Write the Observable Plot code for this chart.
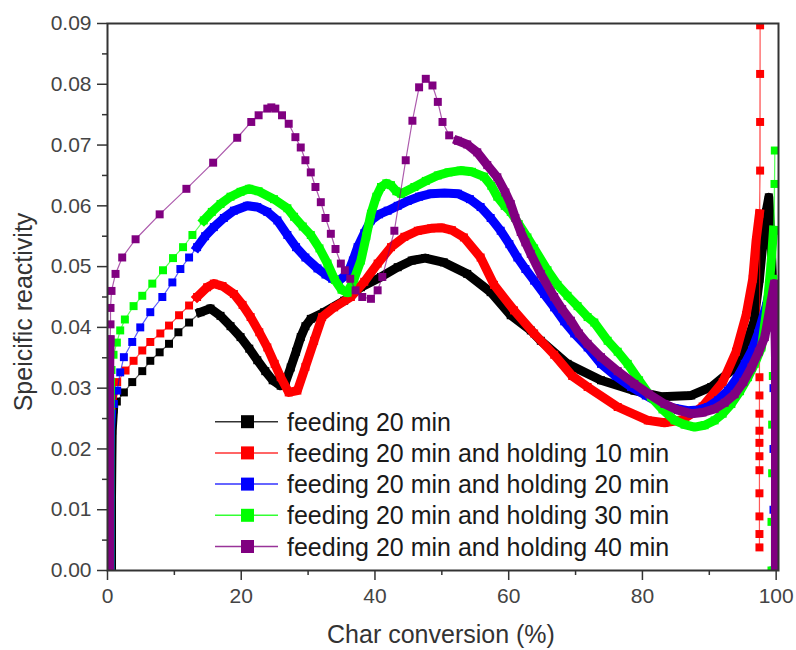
<!DOCTYPE html>
<html><head><meta charset="utf-8">
<script src="https://cdn.jsdelivr.net/npm/d3@7"></script>
<script src="https://cdn.jsdelivr.net/npm/@observablehq/plot@0.6"></script>
<style>
body{margin:0;background:#fff;}
#wrap{position:relative;width:796px;height:650px;font-family:"Liberation Sans",Arial,sans-serif;}
#overlay{position:absolute;left:0;top:0;pointer-events:none;}
</style></head><body><div id="wrap"></div>
<script>
const seriesNames = [
  "feeding 20 min",
  "feeding 20 min and holding 10 min",
  "feeding 20 min and holding 20 min",
  "feeding 20 min and holding 30 min",
  "feeding 20 min and holding 40 min"
];
const seriesColors = ["#000000", "#ff0000", "#0000ff", "#00ff00", "#800080"];
const xTicks = [0, 20, 40, 60, 80, 100];
const xMinorTicks = [10, 30, 50, 70, 90];
const yTicks = [0, 0.01, 0.02, 0.03, 0.04, 0.05, 0.06, 0.07, 0.08, 0.09];
const yMinorTicks = [0.005, 0.015, 0.025, 0.035, 0.045, 0.055, 0.065, 0.075, 0.085];
const xLabel = "Char conversion (%)";
const yLabel = "Speicific reactivity";

// feeding 20 min
const s1Rise = [[0.6,0],[0.6,0.006],[0.6,0.012],[0.65,0.018],[0.7,0.023],[0.9,0.0265]];
const s1Markers = [[1.4,0.0278],[2.45,0.0293],[3.7,0.031],[5.2,0.0328],[6.4,0.0345],[7.8,0.0359],[9.2,0.0373],[10.6,0.0392],[12.2,0.0408]];
const s1Curve = [[13.9,0.0425],[15.4,0.0431],[16.9,0.0419],[18.4,0.0402],[19.9,0.0384],[21.2,0.0365],[22.4,0.0346],[23.6,0.0328],[24.7,0.0313],[25.9,0.0304],[26.7,0.0312],[27.4,0.0334],[28.2,0.036],[28.9,0.0384],[29.6,0.0402],[30.4,0.0414],[32.4,0.0425],[35.4,0.0444],[37.9,0.0466],[40.9,0.0483],[43.4,0.0499],[45.5,0.051],[47.5,0.0514],[50.3,0.0507],[53.8,0.0488],[57.3,0.0458],[60.3,0.042],[63.3,0.0395],[64.8,0.0378],[68.8,0.034],[73.8,0.0313],[78.8,0.0296],[82.8,0.0286],[87.3,0.0288],[90.3,0.0302],[93.3,0.0329],[95.2,0.0362],[96.7,0.041],[97.5,0.048],[98.0,0.0537],[98.5,0.059],[98.9,0.0614],[99.3,0.0526],[99.5,0.046]];

// feeding 20 min and holding 10 min
const s2Rise = [[0.3,0],[0.3,0.006],[0.3,0.012],[0.3,0.018],[0.35,0.024],[0.6,0.0275],[0.9,0.0295]];
const s2Markers = [[1.45,0.031],[2.7,0.0329],[3.9,0.0345],[5.2,0.0362],[6.4,0.0376],[7.9,0.039],[9.2,0.0403],[10.7,0.042],[12.2,0.0436]];
const s2Curve = [[13.4,0.045],[14.9,0.0466],[15.9,0.0472],[17.2,0.0468],[18.9,0.0455],[20.2,0.0437],[21.4,0.0417],[22.7,0.0392],[23.9,0.0367],[25.0,0.034],[25.9,0.0318],[27.1,0.0293],[28.4,0.0296],[29.6,0.0335],[30.9,0.0378],[32.1,0.0417],[33.9,0.0433],[36.4,0.045],[38.4,0.0475],[40.4,0.0505],[42.4,0.0532],[44.4,0.0549],[46.4,0.0559],[48.4,0.0563],[49.9,0.0564],[51.5,0.056],[53.3,0.0548],[55.8,0.0515],[57.8,0.047],[60.8,0.0428],[63.8,0.039],[66.8,0.0355],[69.5,0.032],[71.8,0.0302],[76.3,0.0269],[80.8,0.0247],[83.3,0.0243],[86.0,0.0248],[89.0,0.027],[92.0,0.031],[94.0,0.036],[95.5,0.042],[96.5,0.048],[97.0,0.0543],[97.5,0.0587]];
const s2Spike = [[97.6,0.0658],[97.6,0.0738],[97.6,0.0817],[97.6,0.0897]];
const s2Drop = [[97.5,0.0318],[97.5,0.0288],[97.5,0.0258],[97.5,0.023],[97.5,0.021],[97.5,0.0188],[97.5,0.0165],[97.5,0.0127],[97.5,0.0089],[97.5,0.006],[97.5,0.0038]];

// feeding 20 min and holding 20 min
const s3Rise = [[0.4,0],[0.4,0.006],[0.4,0.012],[0.4,0.018],[0.45,0.023],[0.6,0.0258]];
const s3Markers = [[0.95,0.0274],[1.45,0.0296],[1.9,0.0326],[2.45,0.0351],[3.7,0.0376],[4.9,0.04],[6.4,0.0425],[8.2,0.045],[9.7,0.0474],[10.9,0.0496],[12.2,0.0515]];
const s3Curve = [[13.4,0.0532],[14.6,0.055],[15.9,0.0565],[17.4,0.058],[18.9,0.0592],[20.9,0.06],[22.4,0.0598],[23.9,0.059],[25.4,0.0576],[26.9,0.0552],[28.2,0.0532],[29.6,0.0515],[31.4,0.0497],[32.6,0.0487],[33.6,0.048],[34.6,0.0477],[35.9,0.0488],[36.7,0.051],[37.4,0.0532],[38.4,0.0555],[39.4,0.0576],[40.6,0.0586],[41.9,0.0592],[43.4,0.06],[44.9,0.0608],[46.6,0.0615],[48.4,0.062],[50.4,0.0621],[52.4,0.062],[54.2,0.0611],[55.8,0.0598],[57.3,0.058],[58.8,0.0559],[60.1,0.0537],[61.3,0.0515],[62.5,0.0496],[63.8,0.0477],[65.3,0.0455],[66.8,0.0433],[68.3,0.041],[69.8,0.039],[71.8,0.0367],[73.8,0.034],[76.0,0.032],[78.3,0.0302],[80.5,0.0288],[82.8,0.0274],[84.8,0.0267],[86.8,0.0263],[88.3,0.0264],[89.8,0.0269],[91.3,0.028],[92.8,0.0296],[94.1,0.0316],[95.3,0.034],[96.4,0.0363],[97.3,0.039],[98.5,0.0435],[99.2,0.047]];
const s3Drop = [[99.6,0.04],[99.6,0.03],[99.6,0.02],[99.6,0.01],[99.6,0.0]];

// feeding 20 min and holding 30 min
const s4Rise = [[0.35,0],[0.35,0.004],[0.35,0.008],[0.35,0.012],[0.35,0.016],[0.35,0.02],[0.35,0.024],[0.4,0.028],[0.45,0.031]];
const s4Markers = [[0.6,0.033],[0.9,0.0355],[1.4,0.0375],[1.9,0.0395],[2.6,0.0413],[3.9,0.0435],[5.2,0.0452],[6.7,0.0472],[8.3,0.0494],[9.8,0.0514],[11.3,0.0532],[12.7,0.0552]];
const s4Curve = [[14.4,0.0576],[15.6,0.059],[16.9,0.0603],[18.4,0.0615],[19.9,0.0623],[21.2,0.0628],[22.6,0.0624],[24.9,0.0611],[26.9,0.0596],[27.9,0.0582],[29.2,0.0566],[30.4,0.0552],[31.7,0.053],[32.9,0.0505],[34.0,0.0478],[35.0,0.0462],[35.9,0.0457],[36.9,0.048],[37.9,0.051],[38.7,0.055],[39.4,0.0587],[40.2,0.0615],[40.9,0.0631],[41.7,0.0637],[42.4,0.0634],[43.2,0.0624],[43.9,0.062],[45.9,0.0631],[47.6,0.0641],[49.4,0.065],[51.0,0.0655],[52.8,0.0658],[54.5,0.0656],[56.3,0.0648],[57.4,0.0633],[58.3,0.0615],[59.4,0.06],[60.3,0.059],[61.5,0.057],[62.8,0.0548],[63.8,0.053],[65.8,0.0494],[67.3,0.047],[68.8,0.0452],[70.3,0.0435],[71.8,0.0417],[72.8,0.0408],[74.8,0.0378],[76.3,0.036],[77.8,0.034],[79.5,0.0313],[81.3,0.0285],[83.0,0.0265],[84.8,0.0247],[86.3,0.024],[87.8,0.0236],[89.3,0.0239],[90.8,0.0247],[92.0,0.0258],[93.3,0.0274],[94.6,0.0295],[95.8,0.0318],[96.8,0.034],[97.8,0.0367],[98.6,0.043],[99.2,0.05],[99.6,0.056]];
const s4Spike = [[99.75,0.0636],[99.8,0.0691],[99.7,0.0559],[99.6,0.048],[99.5,0.04],[99.5,0.032],[99.4,0.024],[99.4,0.016],[99.3,0.008],[99.3,0.0]];

// feeding 20 min and holding 40 min
const s5Rise = [[0.3,0],[0.3,0.005],[0.3,0.01],[0.3,0.015],[0.3,0.02],[0.3,0.025],[0.3,0.03],[0.35,0.035],[0.4,0.038]];
const s5Markers = [[0.45,0.0405],[0.45,0.0432],[0.6,0.046],[1.2,0.0488],[2.2,0.0515],[4.2,0.0545],[7.8,0.0586],[11.8,0.0628],[15.8,0.0671],[19.4,0.0712],[21.5,0.0738],[22.6,0.0749],[23.9,0.076],[24.5,0.0762],[25.1,0.076],[26.1,0.0749],[27.1,0.0735],[28.1,0.0713],[28.9,0.0696],[29.6,0.0675],[30.4,0.0655],[31.1,0.0631],[31.9,0.0606],[32.6,0.058],[33.4,0.0554],[34.1,0.0529],[34.9,0.0505],[35.5,0.0494],[36.3,0.048],[37.1,0.0461],[38.1,0.045],[39.4,0.0447],[40.4,0.0461],[41.1,0.0483],[42.9,0.0559],[44.6,0.0675],[45.6,0.074],[46.6,0.0795],[47.6,0.0809],[48.6,0.0798],[49.4,0.0771],[50.1,0.0738],[51.1,0.0716]];
const s5Curve = [[52.4,0.0707],[53.8,0.0701],[55.3,0.0688],[56.8,0.0667],[58.3,0.0647],[59.5,0.0622],[60.3,0.0603],[61.0,0.058],[61.8,0.0557],[62.5,0.054],[63.3,0.0521],[64.8,0.0488],[66.8,0.045],[68.0,0.043],[69.3,0.0411],[70.5,0.039],[71.8,0.0373],[73.8,0.0351],[76.3,0.0328],[78.8,0.0307],[81.0,0.029],[83.3,0.0274],[85.3,0.0264],[87.3,0.0258],[89.0,0.026],[90.8,0.0266],[92.3,0.0276],[93.8,0.029],[95.1,0.031],[96.3,0.0334],[97.4,0.036],[98.3,0.0384],[99.2,0.044],[99.7,0.0472],[99.9,0.035],[99.9,0.02],[99.9,0.0]];

// ordered pieces of each series; dense runs are drawn as a solid band of markers
const seriesPieces = [
  [{pts: s1Rise, dense: true}, {pts: s1Markers, dense: false}, {pts: s1Curve, dense: true}],
  [{pts: s2Rise, dense: true}, {pts: s2Markers, dense: false}, {pts: s2Curve, dense: true}, {pts: s2Spike, dense: false}, {pts: s2Drop, dense: false}],
  [{pts: s3Rise, dense: true}, {pts: s3Markers, dense: false}, {pts: s3Curve, dense: true}, {pts: s3Drop, dense: false}],
  [{pts: s4Rise, dense: true}, {pts: s4Markers, dense: false}, {pts: s4Curve, dense: true}, {pts: s4Spike, dense: false}],
  [{pts: s5Rise, dense: true}, {pts: s5Markers, dense: false}, {pts: s5Curve, dense: true}]
];

const rows = [], bandRows = [];
seriesPieces.forEach((pieces, si) => {
  pieces.forEach((p, pi) => {
    p.pts.forEach(([x, y]) => {
      const r = {series: seriesNames[si], x, y};
      rows.push(r);
      if (p.dense) bandRows.push({...r, piece: si * 10 + pi});
    });
  });
});

const dataMarks = [];
seriesNames.forEach((name, si) => {
  const c = seriesColors[si];
  const all = rows.filter(d => d.series === name);
  const band = bandRows.filter(d => d.series === name);
  dataMarks.push(
    Plot.line(all, {x: "x", y: "y", stroke: c, strokeWidth: 1.2, strokeOpacity: 0.65, clip: true}),
    Plot.line(band, {x: "x", y: "y", z: "piece", stroke: c, strokeWidth: 9, strokeLinejoin: "round", strokeLinecap: "square", clip: true}),
    Plot.dot(all, {x: "x", y: "y", symbol: "square", r: 4.5, fill: c, stroke: "none", clip: true})
  );
});

const axisStyle = {stroke: "#333", strokeWidth: 1.5, fill: "#444", fontSize: 21};

const chart = Plot.plot({
  width: 796,
  height: 650,
  marginLeft: 107,
  marginRight: 18,
  marginTop: 23,
  marginBottom: 80,
  x: {domain: [0, 100.35], label: null},
  y: {domain: [0, 0.09], label: null},
  style: {fontFamily: "'Liberation Sans', Arial, sans-serif", background: "#fff", overflow: "visible"},
  marks: [
    Plot.axisY(yTicks, {...axisStyle, tickSize: 10, tickPadding: 6, tickFormat: d => d.toFixed(2), label: null}),
    Plot.axisY(yMinorTicks, {...axisStyle, tickSize: 5, tickFormat: () => "", label: null}),
    Plot.axisX(xTicks, {...axisStyle, tickSize: 10, tickPadding: 8, tickFormat: d => String(d), label: null}),
    Plot.axisX(xMinorTicks, {...axisStyle, tickSize: 5, tickFormat: () => "", label: null}),
    ...dataMarks,
    Plot.frame({stroke: "#333", strokeWidth: 2})
  ]
});
document.getElementById("wrap").appendChild(chart);

// overlay: axis titles and the legend inside the plot area
const ov = d3.select("#wrap").append("svg").attr("id", "overlay").attr("width", 796).attr("height", 650)
  .attr("font-family", "'Liberation Sans', Arial, sans-serif");
ov.append("text").attr("x", 441).attr("y", 634).attr("text-anchor", "middle").attr("dominant-baseline", "central")
  .attr("font-size", 25).attr("fill", "#333").text(xLabel);
ov.append("text").attr("transform", "translate(23,312) rotate(-90)").attr("text-anchor", "middle")
  .attr("dominant-baseline", "central").attr("font-size", 25).attr("fill", "#333").text(yLabel);
seriesNames.forEach((name, i) => {
  const cy = 421.7 + i * 31.2;
  const g = ov.append("g");
  g.append("line").attr("x1", 215).attr("x2", 278).attr("y1", cy).attr("y2", cy)
    .attr("stroke", seriesColors[i]).attr("stroke-width", 1.5).attr("stroke-opacity", 0.8);
  g.append("rect").attr("x", 241).attr("y", cy - 6.5).attr("width", 13).attr("height", 13).attr("fill", seriesColors[i]);
  g.append("text").attr("x", 287).attr("y", cy).attr("dominant-baseline", "central")
    .attr("font-size", 25).attr("fill", "#1a1a1a").text(name);
});
</script>
</body></html>
